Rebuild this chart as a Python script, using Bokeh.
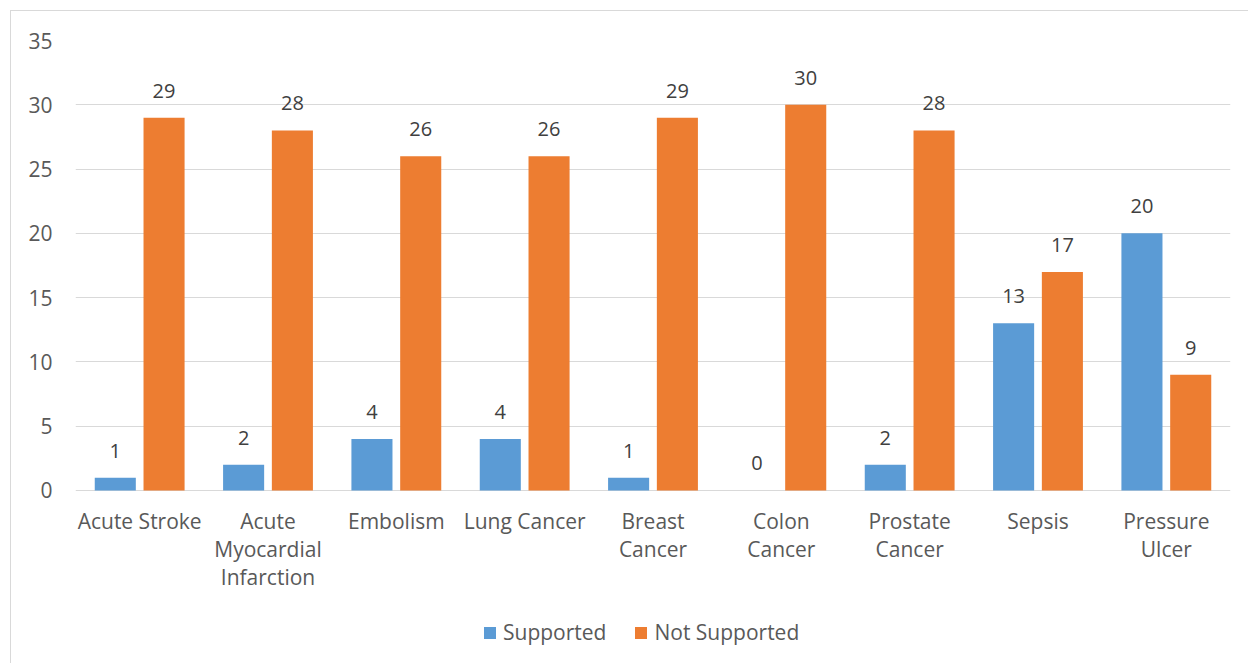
from bokeh.plotting import figure
from bokeh.models import ColumnDataSource, Legend, LegendItem, FixedTicker
from bokeh.transform import dodge
from bokeh.core.properties import value
from bokeh.embed import file_html
from bokeh.resources import INLINE

categories = ["Acute Stroke", "Acute\nMyocardial\nInfarction", "Embolism", "Lung Cancer",
              "Breast\nCancer", "Colon\nCancer", "Prostate\nCancer", "Sepsis", "Pressure\nUlcer"]
supported = [1, 2, 4, 4, 1, 0, 2, 13, 20]
not_supported = [29, 28, 26, 26, 29, 30, 28, 17, 9]
y_ticks = [0, 5, 10, 15, 20, 25, 30, 35]

FONT = "Open Sans"
BLUE = "#5b9bd5"
ORANGE = "#ed7d31"

src = ColumnDataSource(dict(
    cat=categories,
    sup=supported,
    nsup=not_supported,
    base=[0] * len(categories),
    sup_lbl=[str(v) for v in supported],
    nsup_lbl=[str(v) for v in not_supported],
))

# frame reaches the bottom of the chart box so that the legend can sit inside it
p = figure(x_range=categories, y_range=(-13.456, 35), frame_width=1155, frame_height=623,
           output_backend="svg", toolbar_location=None,
           min_border_left=64, min_border_right=18, min_border_top=29, min_border_bottom=0)
p.styles = {"border": "1px solid #d9d9d9", "margin-left": "10px", "margin-top": "10px"}
p.outline_line_color = None
p.background_fill_color = "white"
p.border_fill_color = "white"

r1 = p.vbar(x=dodge("cat", -0.19, range=p.x_range), top="sup", width=0.32, source=src,
            fill_color=BLUE, line_color=None)
r2 = p.vbar(x=dodge("cat", 0.19, range=p.x_range), top="nsup", width=0.32, source=src,
            fill_color=ORANGE, line_color=None)

for col, lbl, off in (("sup", "sup_lbl", -0.19), ("nsup", "nsup_lbl", 0.19)):
    p.text(x=dodge("cat", off, range=p.x_range), y=col, text=lbl, source=src,
           text_align="center", text_baseline="bottom", y_offset=-20,
           text_font=value(FONT), text_font_size="20px", text_color="#404040")

# category labels under the baseline
p.text(x="cat", y="base", text="cat", source=src, text_align="center", text_baseline="top",
       y_offset=17, text_line_height=1.0,
       text_font=value(FONT), text_font_size="21px", text_color="#595959")

p.xgrid.grid_line_color = None
p.ygrid.grid_line_color = "#d9d9d9"
p.ygrid.grid_line_width = 1
p.yaxis.ticker = FixedTicker(ticks=y_ticks)
p.xaxis.visible = False

ax = p.yaxis[0]
ax.axis_line_color = None
ax.major_tick_line_color = None
ax.minor_tick_line_color = None
ax.major_tick_out = 0
ax.major_tick_in = 0
ax.major_label_text_font = FONT
ax.major_label_text_font_size = "21px"
ax.major_label_text_color = "#595959"
ax.major_label_standoff = 23

legend = Legend(items=[LegendItem(label="Supported", renderers=[r1]),
                       LegendItem(label="Not Supported", renderers=[r2])],
                orientation="horizontal", location=(407, 17),
                label_text_font=FONT, label_text_font_size="21px", label_text_color="#595959",
                glyph_width=15, glyph_height=15, spacing=27, label_standoff=6,
                border_line_color=None, background_fill_alpha=0, margin=0, padding=0)
p.add_layout(legend, "center")

open("out.html", "w").write(file_html(p, INLINE))
